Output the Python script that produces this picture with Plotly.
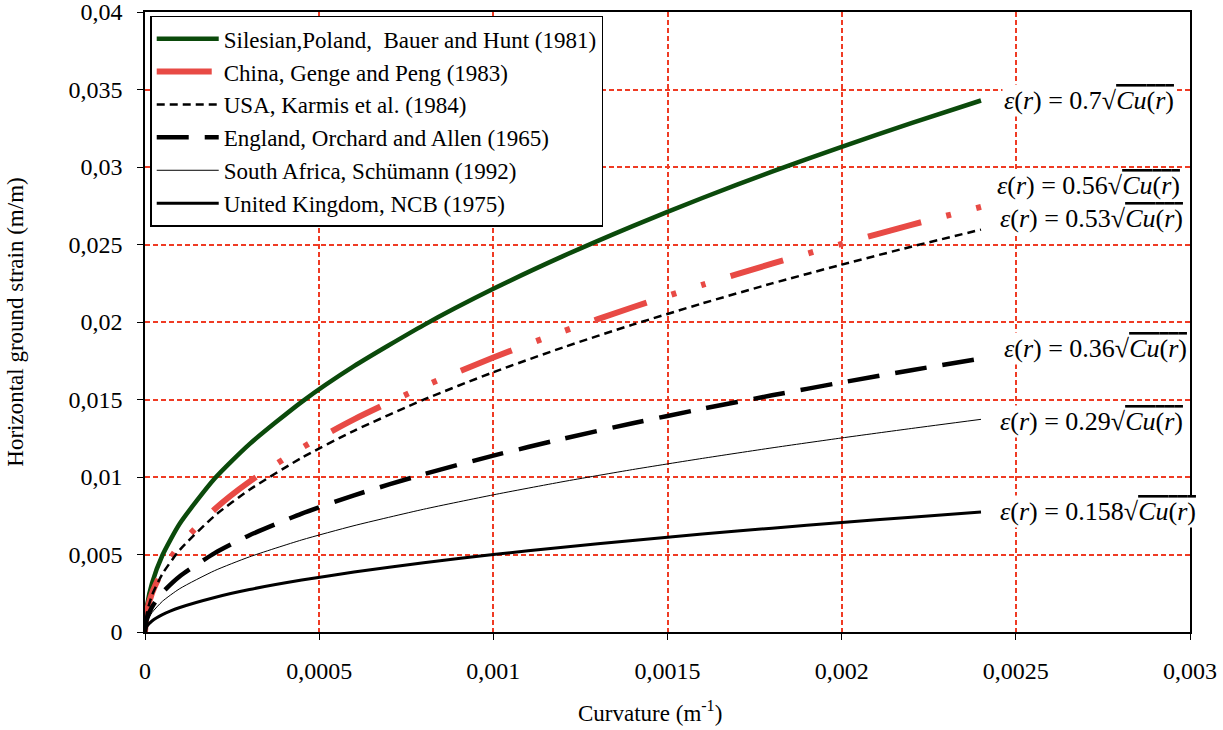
import plotly.graph_objects as go

curvature = [0, 0.000005, 0.00002, 0.00005, 0.0001, 0.0002, 0.0003, 0.00045, 0.0006,
             0.0008, 0.001, 0.0012, 0.0014, 0.0016, 0.0018, 0.002, 0.0022, 0.0024]

silesian = [0, 0.00157, 0.00313, 0.00495, 0.0070, 0.0099, 0.01212, 0.01485, 0.01715,
            0.0198, 0.02214, 0.02425, 0.02619, 0.0280, 0.0297, 0.0313, 0.03283, 0.03429]
china = [0, 0.00125, 0.0025, 0.00396, 0.0056, 0.00792, 0.0097, 0.01188, 0.01372,
         0.01584, 0.01771, 0.0194, 0.02095, 0.0224, 0.02376, 0.02504, 0.02627, 0.02743]
usa = [0, 0.00119, 0.00237, 0.00375, 0.0053, 0.0075, 0.00918, 0.01124, 0.01298,
       0.01499, 0.01676, 0.01836, 0.01983, 0.0212, 0.02249, 0.0237, 0.02486, 0.02596]
england = [0, 0.0008, 0.00161, 0.00255, 0.0036, 0.00509, 0.00624, 0.00764, 0.00882,
           0.01018, 0.01138, 0.01247, 0.01347, 0.0144, 0.01527, 0.0161, 0.01689, 0.01764]
south_africa = [0, 0.00063, 0.00125, 0.00198, 0.0028, 0.00396, 0.00485, 0.00594, 0.00686,
                0.00792, 0.00885, 0.0097, 0.01048, 0.0112, 0.01188, 0.01252, 0.01313, 0.01372]
ncb = [0, 0.00035, 0.00071, 0.00112, 0.00158, 0.00223, 0.00274, 0.00335, 0.00387,
       0.00447, 0.0050, 0.00547, 0.00591, 0.00632, 0.0067, 0.00707, 0.00741, 0.00774]

names = ["Silesian,Poland,  Bauer and Hunt (1981)", "China, Genge and Peng (1983)",
         "USA, Karmis et al. (1984)", "England, Orchard and Allen (1965)",
         "South Africa, Schümann (1992)", "United Kingdom, NCB (1975)"]

coefs = ["0.7", "0.56", "0.53", "0.36", "0.29", "0.158"]
label_x = [0.00246, 0.00244, 0.00245, 0.00246, 0.00245, 0.00245]
label_y = [0.0343, 0.0288, 0.0267, 0.01826, 0.01355, 0.0078]

x_ticks = [0, 0.0005, 0.001, 0.0015, 0.002, 0.0025, 0.003]
x_labels = ["0", "0,0005", "0,001", "0,0015", "0,002", "0,0025", "0,003"]
y_ticks = [0, 0.005, 0.01, 0.015, 0.02, 0.025, 0.03, 0.035, 0.04]
y_labels = ["0", "0,005", "0,01", "0,015", "0,02", "0,025", "0,03", "0,035", "0,04"]

FONT = "Times New Roman, Liberation Serif, serif"

series = [silesian, china, usa, england, south_africa, ncb]
styles = [
    dict(color="#0b4a0b", width=4.5, dash="solid"),
    dict(color="#e84a45", width=6, dash="55px,26px,5px,26px,5px,26px"),
    dict(color="black", width=2.5, dash="8px,5px"),
    dict(color="black", width=4.5, dash="32px,16px"),
    dict(color="black", width=1, dash="solid"),
    dict(color="black", width=3, dash="solid"),
]

fig = go.Figure()
for nm, ys, st in zip(names, series, styles):
    fig.add_trace(go.Scatter(x=curvature, y=ys, mode="lines", name=nm,
                             line=dict(shape="spline", smoothing=0.6, **st)))

for c, lx, ly in zip(coefs, label_x, label_y):
    txt = ("<i>ε</i>(<i>r</i>) = " + c +
           "√<span style='text-decoration:overline'><i>Cu</i>(<i>r</i>)</span>")
    fig.add_annotation(x=lx, y=ly, text=txt, showarrow=False, xanchor="left",
                       yanchor="middle", bgcolor="white",
                       font=dict(family=FONT, size=26, color="black"))

# x-axis title, placed slightly left of centre as in the reference
fig.add_annotation(xref="paper", yref="paper", x=0.483, y=-0.129,
                   xanchor="center", yanchor="middle", showarrow=False,
                   text="Curvature (m<sup>-1</sup>)",
                   font=dict(family=FONT, size=23, color="black"))

grid = dict(showgrid=True, gridcolor="#ef3b24", griddash="5px,3px", gridwidth=2,
            showline=True, linecolor="black", linewidth=1.5, mirror=True,
            ticks="outside", ticklen=6, tickcolor="black", zeroline=False,
            ticklabelstandoff=10, automargin=False, ticklabeloverflow="allow",
            tickfont=dict(family=FONT, size=24, color="black"))

fig.update_layout(
    width=1223, height=730,
    margin=dict(l=145, r=33, t=12, b=98),
    plot_bgcolor="white", paper_bgcolor="white",
    font=dict(family=FONT, size=24, color="black"),
    xaxis=dict(range=[0, 0.003], tickvals=x_ticks, ticktext=x_labels, **grid),
    yaxis=dict(range=[0, 0.04], tickvals=y_ticks, ticktext=y_labels,
               title=dict(text="Horizontal ground strain (m/m)", standoff=38,
                          font=dict(family=FONT, size=23)), **grid),
    legend=dict(x=0.005, y=0.994, xanchor="left", yanchor="top",
                bgcolor="white", bordercolor="black", borderwidth=1.5,
                font=dict(family=FONT, size=23), tracegroupgap=0,
                itemwidth=62),
    showlegend=True,
)

# remove the browser's default 8px page margin so the figure sits at (0, 0)
fig.write_html("out.html", config={"displayModeBar": False},
               post_script="document.body.style.margin='0';")
